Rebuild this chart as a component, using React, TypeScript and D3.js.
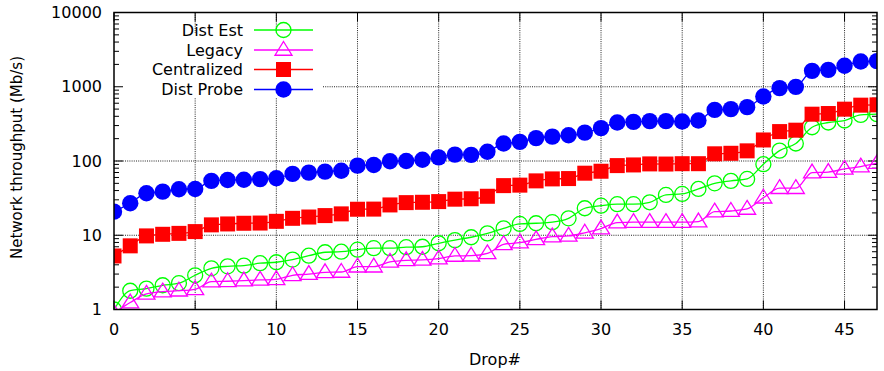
import * as d3 from 'd3';

const DROPS = d3.range(0, 48);

const DIST_EST = [
  1.0, 1.79, 1.91, 2.12, 2.26, 2.89, 3.59, 3.82, 3.9, 4.2, 4.33, 4.7, 5.3, 5.9, 6.0, 6.4,
  6.7, 6.7, 6.9, 7.0, 7.8, 8.6, 9.4, 10.6, 12.4, 14.2, 14.5, 15, 16.9, 23.1, 25, 26.2,
  26.2, 27.8, 34.9, 36, 42, 50, 54, 57.4, 90.5, 138, 172, 285, 330, 351, 418, 427,
];
const LEGACY = [
  0.9, 1.24, 1.62, 1.74, 1.79, 1.87, 2.37, 2.4, 2.45, 2.5, 2.55, 2.89, 3.0, 3.17, 3.2, 3.77,
  3.77, 4.37, 4.6, 4.65, 4.84, 5.26, 5.3, 5.7, 7.56, 7.95, 8.8, 9.6, 9.8, 10.8, 12.3, 14.8,
  15, 15, 15, 15, 15.3, 20.8, 21.2, 22.6, 32, 43, 43, 69.8, 71, 78.3, 84, 93.4,
];
const CENTRALIZED = [
  5.26, 7.2, 9.8, 10.3, 10.6, 11.2, 13.8, 14.2, 14.5, 14.6, 15.4, 16.9, 17.6, 18.4, 19.4, 22.4,
  22.5, 25.6, 27.5, 27.8, 28.4, 30.6, 31, 33.5, 46.6, 47.3, 54, 57.4, 58, 68.5, 72.8, 86.7,
  88.5, 91.4, 91, 92, 92, 125, 127, 137, 192, 249, 260, 427, 436, 499, 565, 570,
];
const DIST_PROBE = [
  20.8, 27, 36.8, 38.7, 41.7, 42, 54, 55.6, 56, 57, 58.6, 67, 69.8, 72, 74, 86.7,
  88.5, 99, 100, 104, 112, 122, 121, 133, 172, 181, 203, 213, 222, 241, 277, 330,
  336, 344, 344, 340, 351, 488, 499, 531, 738, 957, 997, 1637, 1690, 1914, 2188, 2213,
];

const X_TICKS = [0, 5, 10, 15, 20, 25, 30, 35, 40, 45];
const Y_TICKS = [1, 10, 100, 1000, 10000];

type Marker = 'circleOpen' | 'triangleOpen' | 'square' | 'circle';

const SERIES: { name: string; values: number[]; color: string; marker: Marker }[] = [
  { name: 'Dist Est', values: DIST_EST, color: '#00ff00', marker: 'circleOpen' },
  { name: 'Legacy', values: LEGACY, color: '#ff00ff', marker: 'triangleOpen' },
  { name: 'Centralized', values: CENTRALIZED, color: '#ff0000', marker: 'square' },
  { name: 'Dist Probe', values: DIST_PROBE, color: '#0000ff', marker: 'circle' },
];

const FONT = 'DejaVu Sans, sans-serif';

function MarkerShape({ kind, x, y, color }: { kind: Marker; x: number; y: number; color: string }) {
  if (kind === 'circleOpen') {
    return <circle cx={x} cy={y} r={7.5} fill="none" stroke={color} strokeWidth={1.3} />;
  }
  if (kind === 'circle') {
    return <circle cx={x} cy={y} r={8.2} fill={color} />;
  }
  if (kind === 'square') {
    return <rect x={x - 7.5} y={y - 7.5} width={15} height={15} fill={color} />;
  }
  const s = 8.5;
  return (
    <path
      d={`M${x},${y - s} L${x + s},${y + s * 0.62} L${x - s},${y + s * 0.62} Z`}
      fill="none" stroke={color} strokeWidth={1.3}
    />
  );
}

export default function App() {
  const W = 884, H = 371;
  const left = 114, right = 877, top = 12.5, bottom = 309.5;

  const x = d3.scaleLinear().domain([0, 47]).range([left, right]);
  const y = d3.scaleLog().domain([1, 10000]).range([bottom, top]);

  const line = d3.line<number>()
    .x((_, i) => x(DROPS[i]))
    .y(v => y(v))
    .curve(d3.curveMonotoneX);

  const minorTicks: number[] = [];
  for (let dec = 1; dec < 10000; dec *= 10) {
    for (let k = 2; k <= 9; k++) minorTicks.push(dec * k);
  }

  // legend layout
  const legTextX = 243, legLineX1 = 254, legLineX2 = 313, legRowY = [30, 50, 69.5, 89.5];

  return (
    <div style={{ position: 'absolute', left: 0, top: 0 }}>
      <svg width={W} height={H} fontFamily={FONT}>
        <rect width={W} height={H} fill="#fff" />
        <defs>
          <clipPath id="plot">
            <rect x={left} y={top} width={right - left} height={bottom - top} />
          </clipPath>
        </defs>

        {/* Grid */}
        {X_TICKS.filter(t => t > 0).map(t => (
          <line key={`gx${t}`} x1={x(t)} x2={x(t)} y1={top} y2={bottom}
            stroke="#222" strokeWidth={1} strokeDasharray="1 1.2" />
        ))}
        {Y_TICKS.filter(t => t > 1 && t < 10000).map(t => (
          <line key={`gy${t}`} x1={left} x2={right} y1={y(t)} y2={y(t)}
            stroke="#222" strokeWidth={1} strokeDasharray="1 1.2" />
        ))}

        {/* Key background (opaque) */}
        <rect x={left + 1} y={33} width={322 - left - 1} height={65} fill="#fff" />

        {/* Ticks */}
        {X_TICKS.map(t => (
          <g key={`tx${t}`} stroke="#000" strokeWidth={1}>
            <line x1={x(t)} x2={x(t)} y1={bottom} y2={bottom - 9} />
            <line x1={x(t)} x2={x(t)} y1={top} y2={top + 9} />
          </g>
        ))}
        {Y_TICKS.map(t => (
          <g key={`ty${t}`} stroke="#000" strokeWidth={1}>
            <line x1={left} x2={left + 9} y1={y(t)} y2={y(t)} />
            <line x1={right} x2={right - 9} y1={y(t)} y2={y(t)} />
          </g>
        ))}
        {minorTicks.map(t => (
          <g key={`my${t}`} stroke="#000" strokeWidth={1}>
            <line x1={left} x2={left + 5} y1={y(t)} y2={y(t)} />
            <line x1={right} x2={right - 5} y1={y(t)} y2={y(t)} />
          </g>
        ))}

        {/* Series */}
        <g clipPath="url(#plot)">
          {SERIES.map(s => (
            <g key={s.name}>
              <path d={line(s.values) ?? ''} fill="none" stroke={s.color} strokeWidth={1.3} />
              {s.values.map((v, i) => (
                <MarkerShape key={i} kind={s.marker} x={x(DROPS[i])} y={y(v)} color={s.color} />
              ))}
            </g>
          ))}
        </g>

        {/* Legend */}
        {SERIES.map((s, i) => (
          <g key={`leg${s.name}`}>
            <text x={legTextX} y={legRowY[i]} textAnchor="end" dominantBaseline="central"
              fontSize={16} fill="#000">{s.name}</text>
            <line x1={legLineX1} x2={legLineX2} y1={legRowY[i]} y2={legRowY[i]}
              stroke={s.color} strokeWidth={1.3} />
            <MarkerShape kind={s.marker} x={(legLineX1 + legLineX2) / 2} y={legRowY[i]} color={s.color} />
          </g>
        ))}

        {/* Border */}
        <rect x={left} y={top} width={right - left} height={bottom - top}
          fill="none" stroke="#000" strokeWidth={1.5} />

        {/* Tick labels */}
        {X_TICKS.map(t => (
          <text key={`lx${t}`} x={x(t)} y={335} textAnchor="middle" fontSize={16} fill="#000">{t}</text>
        ))}
        {Y_TICKS.map(t => (
          <text key={`ly${t}`} x={102} y={y(t)} textAnchor="end" dominantBaseline="central"
            fontSize={16} fill="#000">{t}</text>
        ))}

        {/* Axis titles */}
        <text x={495} y={365} textAnchor="middle" fontSize={16} fill="#000">Drop#</text>
        <text transform={`translate(22,157.5) rotate(-90)`} textAnchor="middle"
          fontSize={15} fill="#000">Network throughput (Mb/s)</text>
      </svg>
    </div>
  );
}
